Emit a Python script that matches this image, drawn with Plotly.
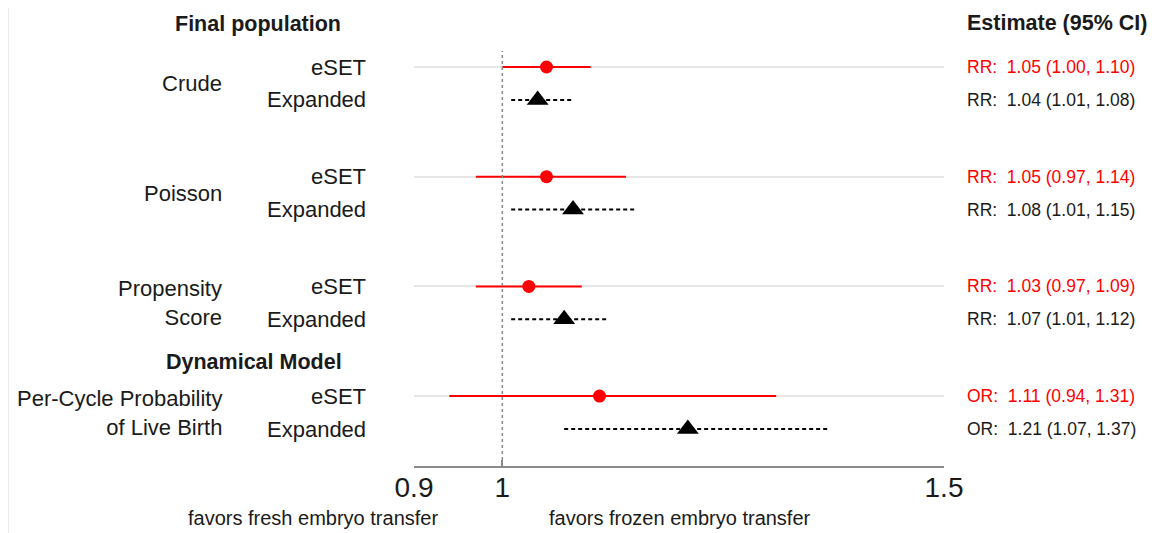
import plotly.graph_objects as go

# ---------------- data ----------------
models = ["Crude", "Poisson", "Propensity<br>Score", "Per-Cycle Probability<br>of Live Birth"]
measures = ["RR", "RR", "RR", "OR"]
eset_est = [1.05, 1.05, 1.03, 1.11]
eset_lo = [1.00, 0.97, 0.97, 0.94]
eset_hi = [1.10, 1.14, 1.09, 1.31]
exp_est = [1.04, 1.08, 1.07, 1.21]
exp_lo = [1.01, 1.01, 1.01, 1.07]
exp_hi = [1.08, 1.15, 1.12, 1.37]
arm_names = ["eSET", "Expanded"]
tick_vals = [0.9, 1, 1.5]
tick_text = ["0.9", "1", "1.5"]
x_range = [0.9, 1.5]
null_value = 1

# ---------------- layout helpers ----------------
W, H = 1160, 533
OFF = 8                # page body margin
FONT = "Liberation Sans, Arial, sans-serif"
RED = "#ff0000"
INK = "#1a1a1a"

def pxx(p):
    return (p - OFF) / W

def pxy(p):
    return 1 - (p - OFF) / H

AXIS_PX = 466          # screen row of the x-axis line
FIRST_ROW_PX = 67      # screen row of first eSET row
ROW_UNIT_PX = 109.7    # pixels per group step
SUB = 0.3              # offset of Expanded row within group

y_eset = [i for i in range(len(models))]
y_exp = [i + SUB for i in range(len(models))]

def seg(lo, hi, ys):
    xs, yy = [], []
    for a, b, y in zip(lo, hi, ys):
        xs += [a, b, None]
        yy += [y, y, None]
    return xs, yy

fig = go.Figure()

xs, ys = seg(eset_lo, eset_hi, y_eset)
fig.add_trace(go.Scatter(x=xs, y=ys, mode="lines",
                         line=dict(color=RED, width=2), hoverinfo="skip", showlegend=False))
xs, ys = seg(exp_lo, exp_hi, y_exp)
fig.add_trace(go.Scatter(x=xs, y=ys, mode="lines",
                         line=dict(color="black", width=2, dash="4px,3px"), hoverinfo="skip", showlegend=False))
fig.add_trace(go.Scatter(x=eset_est, y=y_eset, mode="markers",
                         marker=dict(color=RED, size=13, symbol="circle"), showlegend=False))
fig.add_trace(go.Scatter(x=exp_est, y=y_exp, mode="markers",
                         marker=dict(color="black", size=19, symbol="triangle-up"), showlegend=False))

def txt(x, y, text, xanchor, size, color=INK, yref="paper", align="left"):
    return dict(x=x, y=y, xref="paper", yref=yref, text=text, showarrow=False,
                xanchor=xanchor, yanchor="middle", align=align,
                font=dict(size=size, color=color, family=FONT))

ann = []
for i, m in enumerate(models):
    ann.append(txt(pxx(224), (y_eset[i] + y_exp[i]) / 2, m, "right", 22, yref="y", align="right"))
    for name, yv in zip(arm_names, [y_eset[i], y_exp[i]]):
        ann.append(txt(pxx(368), yv, name, "right", 22, yref="y", align="right"))
    ann.append(txt(pxx(965), y_eset[i],
                   f"{measures[i]}:\u00a0 {eset_est[i]:.2f} ({eset_lo[i]:.2f}, {eset_hi[i]:.2f})",
                   "left", 17.5, color=RED, yref="y"))
    ann.append(txt(pxx(965), y_exp[i],
                   f"{measures[i]}:\u00a0 {exp_est[i]:.2f} ({exp_lo[i]:.2f}, {exp_hi[i]:.2f})",
                   "left", 17.5, yref="y"))

ann.append(txt(pxx(258), pxy(24), "<b>Final population</b>", "center", 21.5))
ann.append(txt(pxx(254), pxy(362), "<b>Dynamical Model</b>", "center", 21.5))
ann.append(txt(pxx(965), pxy(23), "<b>Estimate (95% CI)</b>", "left", 21.5))
ann.append(txt(pxx(313), pxy(518), "favors fresh embryo transfer", "center", 20))
ann.append(txt(pxx(680), pxy(518), "favors frozen embryo transfer", "center", 20))

shapes = [
    dict(type="line", xref="x", yref="paper", x0=null_value, x1=null_value,
         y0=pxy(AXIS_PX), y1=pxy(51), line=dict(color="#888888", width=1.5, dash="dot")),
    dict(type="line", xref="paper", yref="paper", x0=pxx(8.5), x1=pxx(8.5), y0=0, y1=1,
         line=dict(color="#ececec", width=1)),
    dict(type="line", xref="paper", yref="paper", x0=pxx(1158.5), x1=pxx(1158.5), y0=0, y1=1,
         line=dict(color="#ececec", width=1)),
]

y_top = -(FIRST_ROW_PX - OFF) / ROW_UNIT_PX
y_bot = (AXIS_PX - FIRST_ROW_PX) / ROW_UNIT_PX

fig.update_layout(
    template="none",
    width=W, height=H,
    margin=dict(l=0, r=0, t=0, b=0, pad=0, autoexpand=False),
    paper_bgcolor="white", plot_bgcolor="white",
    font=dict(family=FONT, color=INK),
    annotations=ann, shapes=shapes, showlegend=False,
    xaxis=dict(domain=[pxx(414), pxx(944)], range=x_range, tickmode="array",
               tickvals=tick_vals, ticktext=tick_text, showgrid=False, zeroline=False,
               showline=True, linecolor="#8a8a8a", linewidth=1.5, automargin=False,
               ticks="inside", ticklen=6, tickcolor="#8a8a8a", tickwidth=1.5,
               ticklabelstandoff=-4,
               tickfont=dict(size=28, color=INK, family=FONT), fixedrange=True),
    yaxis=dict(domain=[pxy(AXIS_PX), 1], range=[y_bot, y_top], tickmode="array",
               tickvals=y_eset, showticklabels=False, showgrid=True, automargin=False,
               gridcolor="#e6e6e6", gridwidth=2, zeroline=False, showline=False,
               ticks="", fixedrange=True),
)

fig.write_html("out.html")
